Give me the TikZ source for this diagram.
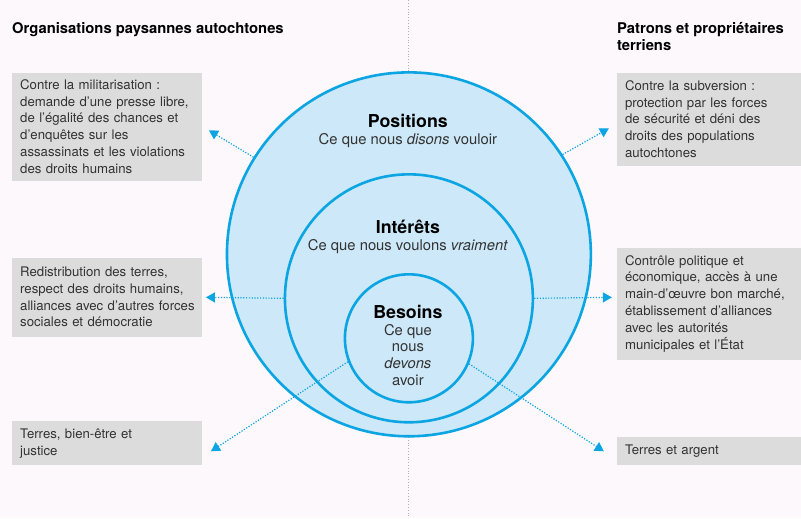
\documentclass[tikz,border=0pt]{standalone}
\usepackage{fontspec}
\setmainfont{TeX Gyre Heros}
\usepackage{xcolor}
\usetikzlibrary{calc,positioning,arrows.meta}
\definecolor{RingBlue}{HTML}{0AA5E2}
\definecolor{RingFill}{HTML}{CDE8F8}
\definecolor{BoxGrey}{HTML}{DCDCDD}
\definecolor{PageBg}{HTML}{FCF8FB}
\definecolor{TextDark}{HTML}{333333}

\tikzset{
  ring/.style={circle, draw=RingBlue, fill=RingFill, line width=2.6pt, inner sep=0pt},
  infobox/.style={fill=BoxGrey, anchor=north west, align=left, inner xsep=8pt, inner ysep=4pt,
    font=\fontsize{13.2}{16.8}\selectfont, text=TextDark},
  link/.style={RingBlue, line width=1.2pt, dash pattern=on 1.2pt off 1.6pt,
    -{Triangle[length=9pt, width=10pt]}},
  heading/.style={anchor=base west, inner sep=0pt, align=left, font=\bfseries\fontsize{14.8}{17}\selectfont},
  ringtitle/.style={font=\bfseries\fontsize{17.8}{20}\selectfont},
  ringtext/.style={font=\fontsize{14.8}{16.7}\selectfont, align=center, text=TextDark},
}

\begin{document}
\begin{tikzpicture}[x=1pt, y=-1pt]
    % Page
    \fill[PageBg] (0,0) rectangle (801,518);
    \draw[black!30, line width=0.8pt, dash pattern=on 0.8pt off 2pt] (408,0) -- (408,518);

    % Headings
    \node[heading] (leftHead) at (12,33) {Organisations paysannes autochtones};
    \node[heading] (rightHead) at (617,50) {Patrons et propriétaires\\terriens};

    % Circles
    \node[ring, minimum size=364pt] (outer) at (409,254) {};
    \node[ring, minimum size=248pt] (middle) at (409,298) {};
    \node[ring, minimum size=128pt] (inner) at (409,338) {};

    % Circle texts
    \node[ringtitle] (posTitle) at (408,121) {Positions};
    \node[ringtext, below=-2pt of posTitle] (posText) {Ce que nous \textit{disons} vouloir};
    \node[ringtitle] (intTitle) at (408,227) {Intérêts};
    \node[ringtext, below=-2pt of intTitle] (intText) {Ce que nous voulons \textit{vraiment}};
    \node[ringtitle] (besTitle) at (408,312) {Besoins};
    \node[ringtext, below=-2pt of besTitle] (besText) {Ce que\\nous\\\textit{devons}\\avoir};

    % Left boxes
    \node[infobox, text width=174pt, minimum height=108pt] (boxL1) at (12,72)
      {Contre la militarisation :\\demande d’une presse libre,\\de l’égalité des chances et\\d’enquêtes sur les\\assassinats et les violations\\des droits humains};
    \node[infobox, text width=174pt, minimum height=79pt] (boxL2) at (12,257)
      {Redistribution des terres,\\respect des droits humains,\\\mbox{alliances avec d’autres forces}\\sociales et démocratie};
    \node[infobox, text width=174pt, minimum height=44pt] (boxL3) at (12,421)
      {Terres, bien-être et\\justice};

    % Right boxes
    \node[infobox, text width=168pt, minimum height=93pt] (boxR1) at (617,72)
      {Contre la subversion :\\protection par les forces\\de sécurité et déni des\\droits des populations\\autochtones};
    \node[infobox, text width=168pt, minimum height=112pt] (boxR2) at (617,247)
      {Contrôle politique et\\économique, accès à une\\main-d’œuvre bon marché,\\établissement d’alliances\\avec les autorités\\municipales et l’État};
    \node[infobox, text width=168pt, minimum height=28pt] (boxR3) at (617,437)
      {Terres et argent};

    % Arrow ends
    \coordinate (endL1) at (209,130);
    \coordinate (endR1) at (609,128);
    \coordinate (endL2) at (206,297);
    \coordinate (endR2) at (612,297);
    \coordinate (endL3) at (211,451);
    \coordinate (endR3) at (604,451);

    % Arrows
    \draw[link] (outer.148) -- (endL1);
    \draw[link] (outer.33) -- (endR1);
    \draw[link] (middle.180) -- (endL2);
    \draw[link] (middle.0) -- (endR2);
    \draw[link] (inner.201) -- (endL3);
    \draw[link] (inner.-23) -- (endR3);
\end{tikzpicture}
\end{document}
